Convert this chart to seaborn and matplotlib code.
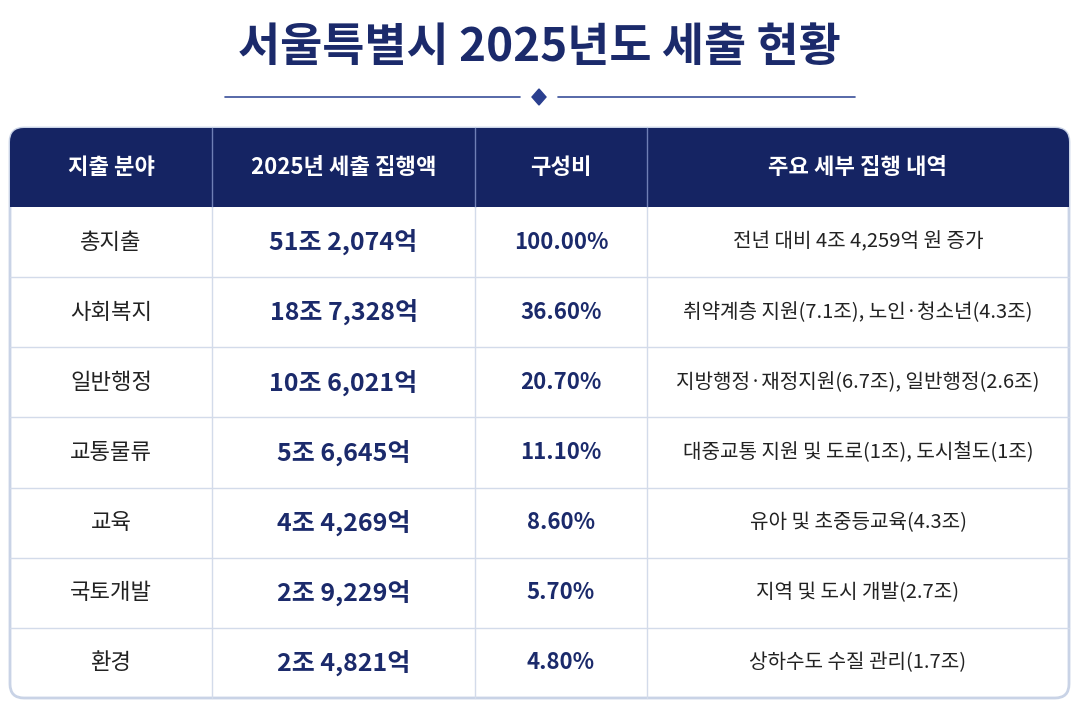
import numpy as np
import matplotlib
matplotlib.use('Agg')
import matplotlib.pyplot as plt
from matplotlib.patches import FancyBboxPatch, Rectangle, Polygon
from matplotlib.colors import ListedColormap
import seaborn as sns

sns.set_theme(style="white")
plt.rcParams['font.family'] = ['Noto Sans CJK KR', 'DejaVu Sans']

TITLE = "서울특별시 2025년도 세출 현황"
HEADERS = ["지출 분야", "2025년 세출 집행액", "구성비", "주요 세부 집행 내역"]
FIELDS = ["총지출", "사회복지", "일반행정", "교통물류", "교육", "국토개발", "환경"]
AMOUNTS = ["51조 2,074억", "18조 7,328억", "10조 6,021억", "5조 6,645억",
           "4조 4,269억", "2조 9,229억", "2조 4,821억"]
SHARES = [100.00, 36.60, 20.70, 11.10, 8.60, 5.70, 4.80]
DETAILS = ["전년 대비 4조 4,259억 원 증가",
           "취약계층 지원(7.1조), 노인·청소년(4.3조)",
           "지방행정·재정지원(6.7조), 일반행정(2.6조)",
           "대중교통 지원 및 도로(1조), 도시철도(1조)",
           "유아 및 초중등교육(4.3조)",
           "지역 및 도시 개발(2.7조)",
           "상하수도 수질 관리(1.7조)"]

NAVY = "#1b2a6b"
W, H = 1079, 710
fig = plt.figure(figsize=(W / 100, H / 100), dpi=100)
fig.patch.set_facecolor("white")
ax = fig.add_axes([0, 0, 1, 1])
ax.set_xlim(0, W)
ax.set_ylim(H, 0)
ax.axis('off')

# title and ornament
ax.text(W / 2, 48, TITLE, ha='center', va='center', fontsize=33,
        fontweight='bold', color=NAVY)
ax.plot([225, 520], [97, 97], color="#3a4f9a", lw=1.2)
ax.plot([558, 855], [97, 97], color="#3a4f9a", lw=1.2)
ax.add_patch(Polygon([[539, 89], [546, 97], [539, 105], [532, 97]],
                     closed=True, color="#2a3f8f"))

# table frame
cols = [10, 212, 475, 647, 1069]
top, head_bot, bot = 128, 207, 698
ax.add_patch(FancyBboxPatch((10, top), 1059, bot - top,
                            boxstyle="round,pad=0,rounding_size=14",
                            fc="white", ec="#c9d3e6", lw=2, zorder=1))
# header: rounded top corners, square bottom
ax.add_patch(FancyBboxPatch((10, top), 1059, 40,
                            boxstyle="round,pad=0,rounding_size=14",
                            fc="#152463", ec="none", zorder=2))
ax.add_patch(Rectangle((10, top + 20), 1059, head_bot - top - 20,
                       fc="#152463", ec="none", zorder=2))

# row shading via seaborn heatmap
n = len(FIELDS)
row_h = (bot - head_bot) / n
shade = np.array([[i % 2] for i in range(n)])
hax = fig.add_axes([11 / W, 1 - bot / H, 1057 / W, (bot - head_bot) / H], zorder=0.5)
sns.heatmap(shade, ax=hax, cmap=ListedColormap(["#ffffff", "#edf2fb"]),
            cbar=False, xticklabels=False, yticklabels=False)
hax.axis('off')
ax.set_zorder(1)
ax.patch.set_alpha(0)

# grid lines
for i in range(1, n):
    y = head_bot + i * row_h
    ax.plot([10, 1069], [y, y], color="#d3dbea", lw=1, zorder=3)
for x in cols[1:-1]:
    ax.plot([x, x], [top, head_bot], color="#6f7fb5", lw=1, zorder=3)
    ax.plot([x, x], [head_bot, bot], color="#d3dbea", lw=1, zorder=3)

centers = [(cols[i] + cols[i + 1]) / 2 for i in range(4)]
for c, h in zip(centers, HEADERS):
    ax.text(c, (top + head_bot) / 2, h, ha='center', va='center',
            fontsize=16, fontweight='bold', color='white', zorder=4)

for i in range(n):
    y = head_bot + (i + 0.5) * row_h
    ax.text(centers[0], y, FIELDS[i], ha='center', va='center', fontsize=16,
            color="#222222", zorder=4)
    ax.text(centers[1], y, AMOUNTS[i], ha='center', va='center', fontsize=18,
            fontweight='bold', color=NAVY, zorder=4)
    ax.text(centers[2], y, f"{SHARES[i]:.2f}%", ha='center', va='center',
            fontsize=16, fontweight='bold', color=NAVY, zorder=4)
    ax.text(centers[3], y, DETAILS[i], ha='center', va='center', fontsize=14.5,
            color="#222222", zorder=4)

fig.savefig("out.png", dpi=100)
